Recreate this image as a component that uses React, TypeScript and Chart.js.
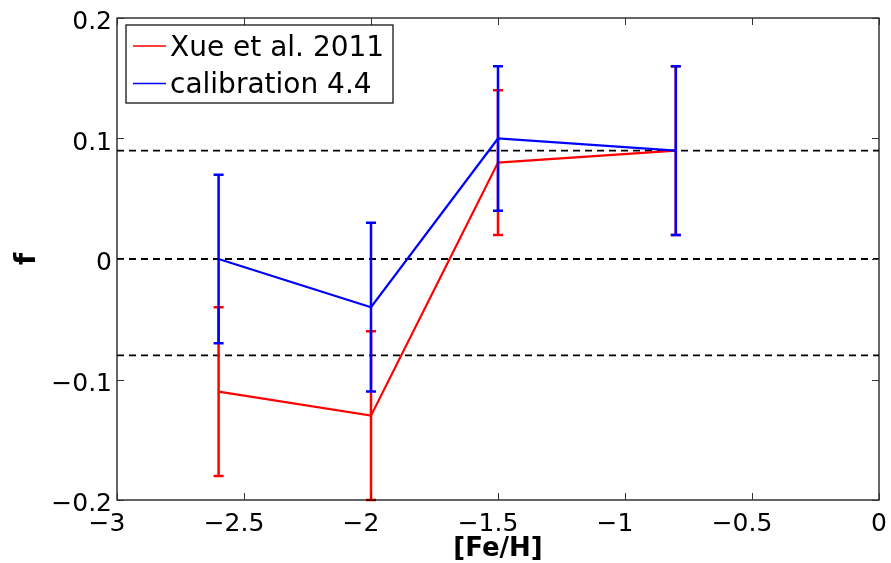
import React, { useEffect, useRef } from "react";
import { Chart, registerables } from "chart.js";

Chart.register(...registerables);

// ---- data ----
const feH = [-2.6, -2.0, -1.5, -0.8];
const xueF = [-0.11, -0.13, 0.08, 0.09];
const xueErr = [0.07, 0.07, 0.06, 0.07];
const calF = [0.0, -0.04, 0.1, 0.09];
const calErr = [0.07, 0.07, 0.06, 0.07];
const refLines = [0.09, 0.0, -0.08];
const xTicks = [-3, -2.5, -2, -1.5, -1, -0.5, 0];
const yTicks = [-0.2, -0.1, 0, 0.1, 0.2];
const seriesNames = ["Xue et al. 2011", "calibration 4.4"];
const seriesColors = ["#ff0000", "#0000ff"];
const xTitle = "[Fe/H]";
const yTitle = "f";

const fmt = (v: number) => (v < 0 ? "\u2212" + String(Math.abs(v)) : String(Math.abs(v)));

const errBarPlugin = {
  id: "errBars",
  afterDatasetDraw(chart: any, args: any) {
    const ds = chart.data.datasets[args.index];
    if (!ds.errors) return;
    const ctx = chart.ctx;
    const xs = chart.scales.x;
    const ys = chart.scales.y;
    ctx.save();
    ctx.strokeStyle = ds.borderColor;
    ctx.lineWidth = 2.5;
    ds.data.forEach((p: any, i: number) => {
      const e = ds.errors[i];
      const px = xs.getPixelForValue(p.x);
      const top = ys.getPixelForValue(p.y + e);
      const bot = ys.getPixelForValue(p.y - e);
      ctx.beginPath();
      ctx.moveTo(px, top);
      ctx.lineTo(px, bot);
      ctx.moveTo(px - 5, top);
      ctx.lineTo(px + 5, top);
      ctx.moveTo(px - 5, bot);
      ctx.lineTo(px + 5, bot);
      ctx.stroke();
    });
    ctx.restore();
  },
};

const framePlugin = {
  id: "frame",
  afterDraw(chart: any) {
    const ctx = chart.ctx;
    const { left, right, top, bottom } = chart.chartArea;
    const xs = chart.scales.x;
    const ys = chart.scales.y;
    ctx.save();
    ctx.strokeStyle = "#000";
    ctx.lineWidth = 1.2;
    ctx.strokeRect(left, top, right - left, bottom - top);
    ctx.lineWidth = 1;
    ctx.strokeStyle = "#333";
    const tl = 7;
    ctx.beginPath();
    xs.ticks.forEach((t: any) => {
      const px = Math.round(xs.getPixelForValue(t.value)) + 0.5;
      ctx.moveTo(px, bottom);
      ctx.lineTo(px, bottom - tl);
      ctx.moveTo(px, top);
      ctx.lineTo(px, top + tl);
    });
    ys.ticks.forEach((t: any) => {
      const py = Math.round(ys.getPixelForValue(t.value)) + 0.5;
      ctx.moveTo(left, py);
      ctx.lineTo(left + tl, py);
      ctx.moveTo(right, py);
      ctx.lineTo(right - tl, py);
    });
    ctx.stroke();

    // tick labels
    ctx.fillStyle = "#000";
    ctx.font = "25px 'DejaVu Sans'";
    ctx.textBaseline = "alphabetic";
    ctx.textAlign = "right";
    ys.ticks.forEach((t: any) => {
      const py = ys.getPixelForValue(t.value);
      ctx.fillText(fmt(t.value), left - 5, py + 11);
    });
    ctx.textAlign = "center";
    xs.ticks.forEach((t: any) => {
      const px = xs.getPixelForValue(t.value);
      ctx.fillText(fmt(t.value), px + (t.value < 0 ? -10 : 0), bottom + 31);
    });

    // axis titles
    ctx.font = "bold 26px 'DejaVu Sans'";
    ctx.fillText(xTitle, (left + right) / 2, bottom + 56);
    ctx.save();
    ctx.translate(35, (top + bottom) / 2);
    ctx.rotate(-Math.PI / 2);
    ctx.font = "bold 28px 'DejaVu Sans'";
    ctx.textAlign = "center";
    ctx.fillText(yTitle, 0, 0);
    ctx.restore();

    // legend
    const lx = left + 9;
    const ly = top + 7;
    ctx.fillStyle = "#fff";
    ctx.fillRect(lx, ly, 267, 78);
    ctx.strokeStyle = "#000";
    ctx.lineWidth = 1.2;
    ctx.strokeRect(lx, ly, 267, 78);
    ctx.font = "28px 'DejaVu Sans'";
    ctx.textAlign = "left";
    seriesNames.forEach((name, i) => {
      const rowY = ly + 21 + i * 37.5;
      ctx.strokeStyle = seriesColors[i];
      ctx.lineWidth = 1.5;
      ctx.beginPath();
      ctx.moveTo(lx + 7, rowY);
      ctx.lineTo(lx + 40, rowY);
      ctx.stroke();
      ctx.fillStyle = "#000";
      ctx.fillText(name, lx + 44, rowY + 9.5);
    });
    ctx.restore();
  },
};

export default function App() {
  const ref = useRef<HTMLCanvasElement | null>(null);
  useEffect(() => {
    if (!ref.current) return;
    const refDs = refLines.map((v) => ({
      label: "ref " + v,
      data: [
        { x: xTicks[0], y: v },
        { x: xTicks[xTicks.length - 1], y: v },
      ],
      borderColor: "#000",
      borderWidth: 1.8,
      borderDash: [7, 5],
      pointRadius: 0,
      showLine: true,
      order: 10,
    }));
    const chart = new Chart(ref.current, {
      type: "scatter",
      data: {
        datasets: [
          ...refDs,
          {
            label: seriesNames[0],
            data: feH.map((x, i) => ({ x, y: xueF[i] })),
            errors: xueErr,
            borderColor: seriesColors[0],
            borderWidth: 2.2,
            pointRadius: 0,
            showLine: true,
            order: 5,
          } as any,
          {
            label: seriesNames[1],
            data: feH.map((x, i) => ({ x, y: calF[i] })),
            errors: calErr,
            borderColor: seriesColors[1],
            borderWidth: 2.2,
            pointRadius: 0,
            showLine: true,
            order: 1,
          } as any,
        ],
      },
      options: {
        animation: false,
        responsive: false,
        devicePixelRatio: 1,
        layout: { padding: { left: 117, top: 18, right: 12, bottom: 63 } },
        plugins: { legend: { display: false }, tooltip: { enabled: false } },
        scales: {
          x: {
            type: "linear",
            min: xTicks[0],
            max: xTicks[xTicks.length - 1],
            display: false,
            afterBuildTicks: (s: any) => {
              s.ticks = xTicks.map((value) => ({ value }));
            },
          },
          y: {
            type: "linear",
            min: yTicks[0],
            max: yTicks[yTicks.length - 1],
            display: false,
            afterBuildTicks: (s: any) => {
              s.ticks = yTicks.map((value) => ({ value }));
            },
          },
        },
      },
      plugins: [errBarPlugin, framePlugin],
    });
    return () => chart.destroy();
  }, []);
  return (
    <div style={{ position: "absolute", left: 0, top: 0, width: 891, height: 563, background: "#fff" }}>
      <canvas ref={ref} width={891} height={563} style={{ width: 891, height: 563 }} />
    </div>
  );
}
